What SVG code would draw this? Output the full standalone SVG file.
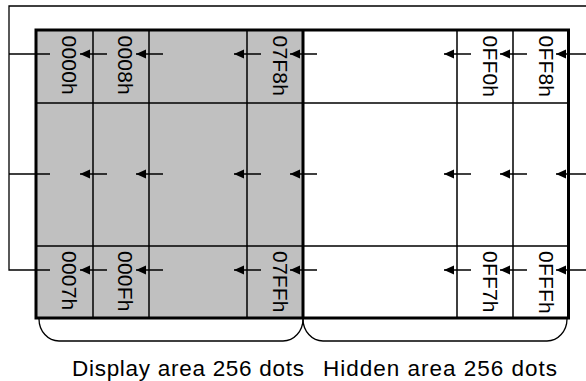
<svg xmlns="http://www.w3.org/2000/svg" width="586" height="381" viewBox="0 0 586 381">
<style>
.thin{stroke:#000;stroke-width:1.5;fill:none}
.thick{stroke:#000;stroke-width:3;fill:none}
.fb{stroke:#000;stroke-width:1.3;fill:none}
.arr{stroke:#000;stroke-width:1.5;fill:none;marker-end:url(#ah)}
.lbl{font-family:"Liberation Sans",Arial,sans-serif;font-size:21px;letter-spacing:0.2px;fill:#000}
.cap{font-family:"Liberation Sans",Arial,sans-serif;font-size:22.5px;fill:#000}
</style>
<defs>
<marker id="ah" markerUnits="userSpaceOnUse" markerWidth="10" markerHeight="10" viewBox="0 -5 10 10" refX="10" refY="0" orient="auto">
<path d="M10,0 L0,-4.6 L0,4.6 z" fill="#000"/>
</marker>
</defs>
<rect width="586" height="381" fill="#fff"/>
<g id="grid">
<rect x="36" y="30" width="267" height="288" fill="#c0c0c0"/>
<path class="thin" d="M93 30V318M149 30V318M247 30V318M457 30V318M513 30V318M36 103H569M36 246H569"/>
<rect class="thick" x="36" y="30" width="532.5" height="288"/>
<path class="thick" d="M303 30V318"/>
</g>
<g id="labels">
<g id="l0000"><text class="lbl" transform="translate(62.3,35.5) rotate(90)">0000h</text></g>
<g id="l0008"><text class="lbl" transform="translate(118,35.5) rotate(90)">0008h</text></g>
<g id="l07F8"><text class="lbl" transform="translate(273,35.5) rotate(90)">07F8h</text></g>
<g id="l0FF0"><text class="lbl" transform="translate(483,35.5) rotate(90)">0FF0h</text></g>
<g id="l0FF8"><text class="lbl" transform="translate(539,35.5) rotate(90)">0FF8h</text></g>
<g id="l0007"><text class="lbl" transform="translate(62.3,251) rotate(90)">0007h</text></g>
<g id="l000F"><text class="lbl" transform="translate(118,251) rotate(90)">000Fh</text></g>
<g id="l07FF"><text class="lbl" transform="translate(273,251) rotate(90)">07FFh</text></g>
<g id="l0FF7"><text class="lbl" transform="translate(483,251) rotate(90)">0FF7h</text></g>
<g id="l0FFF"><text class="lbl" transform="translate(539,251) rotate(90)">0FFFh</text></g>
</g>
<g id="connectors">
<path class="fb" d="M586 6H9V270H50M9 54H50M9 174H50"/>
<path class="arr" d="M107 54H80"/><path class="arr" d="M163 54H136"/><path class="arr" d="M261 54H234"/><path class="arr" d="M317 54H290"/><path class="arr" d="M471 54H444"/><path class="arr" d="M527 54H500"/><path class="arr" d="M586 54H556"/>
<path class="arr" d="M107 174H80"/><path class="arr" d="M163 174H136"/><path class="arr" d="M261 174H234"/><path class="arr" d="M317 174H290"/><path class="arr" d="M471 174H444"/><path class="arr" d="M527 174H500"/><path class="arr" d="M586 174H556"/>
<path class="arr" d="M107 270H80"/><path class="arr" d="M163 270H136"/><path class="arr" d="M261 270H234"/><path class="arr" d="M317 270H290"/><path class="arr" d="M471 270H444"/><path class="arr" d="M527 270H500"/><path class="arr" d="M586 270H556"/>
</g>
<g id="braces">
<path class="fb" d="M39 319A20 22 0 0 0 59 341H283A20 22 0 0 0 303 319"/>
<path class="fb" d="M303 319A20 22 0 0 0 323 341H547A20 22 0 0 0 567 319"/>
</g>
<g id="captions">
<text class="cap" x="72" y="376" textLength="232" lengthAdjust="spacing">Display area 256 dots</text>
<text class="cap" x="323" y="376" textLength="234" lengthAdjust="spacing">Hidden area 256 dots</text>
</g>
</svg>
